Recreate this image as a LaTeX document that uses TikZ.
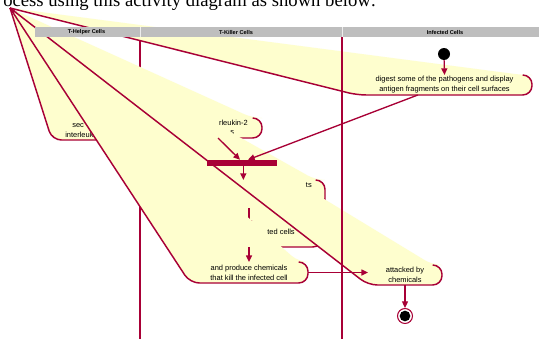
\documentclass[tikz,border=0pt]{standalone}
\usepackage{fontspec}
\setmainfont{Liberation Serif}
\setsansfont{Liberation Sans}
\usetikzlibrary{arrows.meta}
\definecolor{umlred}{HTML}{A80036}
\definecolor{actyellow}{HTML}{FEFECE}
\definecolor{lanegray}{HTML}{BEBEBE}
\newcommand{\acttxt}{\sffamily\fontsize{5.6}{7.5}\selectfont}
\newcommand{\lanetxt}{\sffamily\bfseries\fontsize{4.2}{5}\selectfont}
\tikzset{
  actbox/.style={inner sep=0pt, outer sep=0pt},
  acttext/.style={font=\acttxt, align=center, inner sep=0pt},
  actfill/.style={fill=actyellow, rounded corners=7pt},
  actline/.style={draw=umlred, line width=1.1pt, rounded corners=7pt},
  lane/.style={draw=umlred, line width=1.1pt},
  flow/.style={draw=umlred, line width=1pt, -{Triangle[length=5pt,width=4.5pt]}},
  forkbar/.style={fill=umlred, inner sep=0pt, minimum width={70*0.75pt}, minimum height={6*0.75pt}},
}
% one activity: name, centre x, centre y, width, height (all in px)
\newcommand{\activity}[5]{%
  \node[actbox, minimum width={#4*0.75pt}, minimum height={#5*0.75pt}] (#1) at (#2,#3) {};
  \fill[actfill] (apex) -- (#1.south west) -- (#1.south east) -- (#1.north east) -- ([xshift=-7pt]#1.north east) -- cycle;
  \draw[actline] (apex) -- (#1.south west) -- (#1.south east) -- (#1.north east) -- ([xshift=-7pt]#1.north east);
}
\begin{document}
\begin{tikzpicture}[x=0.75pt,y=-0.75pt]
  \useasboundingbox (0,0) rectangle (539,339);
  \clip (0,0) rectangle (539,339);
  \fill[white] (0,0) rectangle (539,339);
  \coordinate (apex) at (10,8);

  % line of the page above the diagram
  \node[anchor=base west, inner sep=0pt, font=\fontsize{14}{16}\selectfont] (caption) at (3,7) {ocess using this activity diagram as shown below:};

  \draw[lane] (140,37) -- (140,339);

  \node[circle, fill=black, inner sep=0pt, minimum size={12*0.75pt}] (start) at (444,54) {};

  \activity{digest}{444.5}{85}{175}{20}
  \node[acttext] (digest-txt) at (digest) {digest some of the pathogens and display\\antigen fragments on their cell surfaces};

  \activity{secrete}{85.5}{130}{67}{20}
  \node[acttext, anchor=base west] (secrete-a) at (72,127.5) {sec};
  \node[acttext, anchor=base west] (secrete-b) at (65,137.5) {interleuk};

  \activity{receive}{226}{128}{72}{20}
  \node[acttext, anchor=base east] (receive-a) at (248,125.5) {rleukin-2};
  \node[acttext, anchor=base west] (receive-b) at (230,134.5) {s};

  \activity{multiply}{250}{194}{150}{28}
  \node[acttext, anchor=base east] (multiply-a) at (312,187) {ts};

  \activity{bind}{261}{237}{122}{20}
  \node[acttext, anchor=base east] (bind-a) at (295,234.5) {ted cells};
  \draw[flow] (249,0 |- multiply.south) -- (249,0 |- bind.north);

  \activity{produce}{249}{272.5}{118}{21}
  \node[acttext] (produce-txt) at (produce) {and produce chemicals\\that kill the infected cell};

  \activity{attacked}{405}{275}{74}{20}
  \node[acttext] (attacked-txt) at (attacked) {attacked by\\chemicals};

  \draw[lane] (342,37) -- (342,339);

  \node[forkbar] (fork) at (242,163) {};
  \node[circle, draw=umlred, fill=white, line width=0.8pt, inner sep=0pt, minimum size={15*0.75pt}] (final) at (405,316) {};
  \fill[black] (final) circle (4pt);

  % arrows
  \draw[flow] (start) -- (digest.north);
  \draw[flow] ([xshift=-20pt]digest.south) -- ([xshift=4.5pt]fork.north);
  \draw[flow] ([xshift=-6pt]receive.south) -- ([xshift=-1.5pt]fork.north);
  \draw[flow] ([xshift=1pt]fork.south) -- ([xshift=1pt]fork.south |- multiply.north);
  \draw[flow] (produce.north |- bind.south) -- (produce.north);
  \draw[flow] (produce.east) -- (produce.east -| attacked.west);
  \draw[flow] (attacked.south) -- (final.north);

  % swimlane header
  \fill[lanegray] (35,27) rectangle (539,37);
  \draw[white!85!gray, line width=0.6pt] (140,27) -- (140,37) (342,27) -- (342,37);
  \node[font=\lanetxt] (helper) at (86.5,32) {T-Helper Cells};
  \node[font=\lanetxt] (killer) at (236,32) {T-Killer Cells};
  \node[font=\lanetxt] (infected) at (445,32) {Infected Cells};
\end{tikzpicture}
\end{document}
